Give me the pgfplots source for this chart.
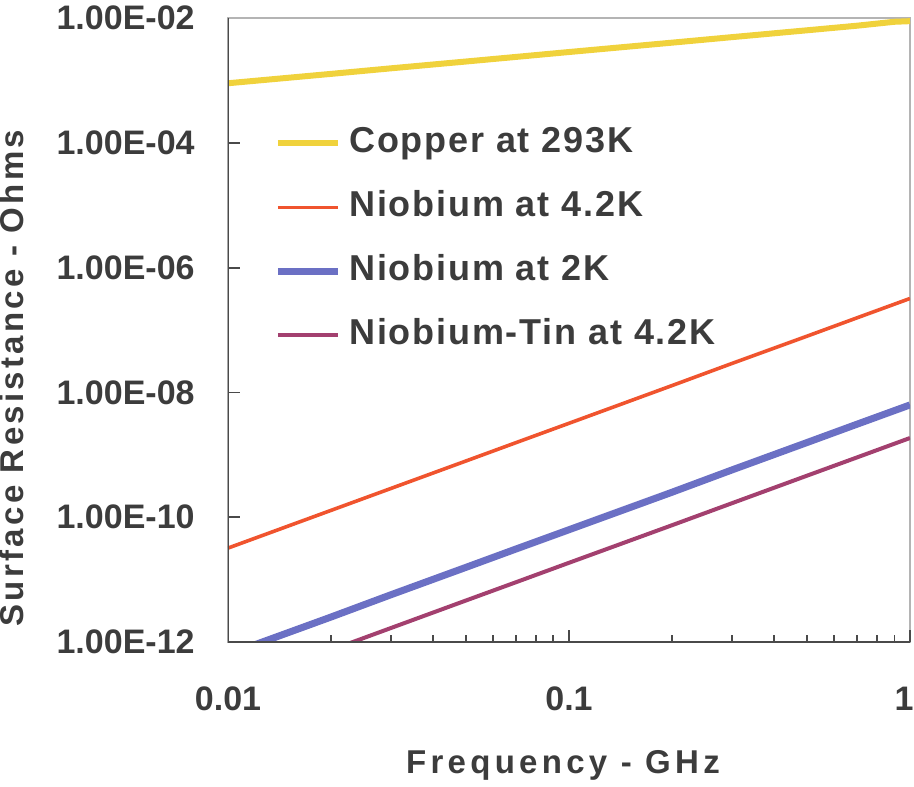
\documentclass[border=0pt]{standalone}
\usepackage{fontspec}
\setmainfont{Liberation Sans}
\newfontfamily\legfont[LetterSpace=5]{Liberation Sans}
\newfontfamily\labfont[LetterSpace=13]{Liberation Sans}
\newfontfamily\ylabfont[LetterSpace=10]{Liberation Sans}
\usepackage{pgfplots}
\pgfplotsset{compat=1.18}
\usetikzlibrary{calc}
\definecolor{txt}{HTML}{3C3C3C}
\definecolor{axdark}{HTML}{4A4A4A}
\definecolor{axlight}{HTML}{B4B4B4}
\definecolor{copper}{HTML}{F0D23C}
\definecolor{nbfour}{HTML}{F0542E}
\definecolor{nbtwo}{HTML}{6B70C4}
\definecolor{nbtin}{HTML}{A3406F}

% frequency (GHz) vs surface resistance (Ohm)
\pgfplotstableread{
f Rs
0.01 9.0e-4
0.02 1.27e-3
0.03 1.56e-3
0.05 2.01e-3
0.07 2.38e-3
0.1 2.85e-3
0.2 4.02e-3
0.3 4.93e-3
0.5 6.36e-3
0.7 7.53e-3
0.9 8.7e-3
1.0 8.9e-3
}\copperdata
\pgfplotstableread{
f Rs
0.01 3.2e-11
0.02 1.28e-10
0.03 2.88e-10
0.05 8.0e-10
0.07 1.57e-9
0.1 3.2e-9
0.2 1.28e-8
0.3 2.9e-8
0.5 8.0e-8
0.7 1.57e-7
1.0 3.2e-7
}\nbfourdata
\pgfplotstableread{
f Rs
0.01 6.3e-13
0.02 2.5e-12
0.03 5.7e-12
0.05 1.58e-11
0.07 3.1e-11
0.1 6.3e-11
0.2 2.5e-10
0.3 5.7e-10
0.5 1.58e-9
0.7 3.1e-9
1.0 6.3e-9
}\nbtwodata
\pgfplotstableread{
f Rs
0.02 7.4e-13
0.03 1.67e-12
0.05 4.65e-12
0.07 9.1e-12
0.1 1.86e-11
0.2 7.4e-11
0.3 1.67e-10
0.5 4.65e-10
0.7 9.1e-10
1.0 1.86e-9
}\nbtindata

\begin{document}
\begin{tikzpicture}
% page = reference frame: axis box 341x312pt at (0,0)
\useasboundingbox (-114pt,-72pt) rectangle (343pt,321pt);
\begin{axis}[
  at={(0,0)}, anchor=south west,
  scale only axis,
  width=341pt, height=312pt,
  xmode=log, ymode=log,
  xmin=0.01, xmax=1, ymin=1e-12, ymax=1e-2,
  xtick={0.01,0.1}, xticklabels={0.01,0.1},
  minor xtick={0.02,0.03,0.04,0.05,0.06,0.07,0.08,0.09,0.2,0.3,0.4,0.5,0.6,0.7,0.8,0.9},
  extra x ticks={1}, extra x tick labels={1},
  extra x tick style={xticklabel style={xshift=-3pt}},
  ytick={1e-12,1e-10,1e-8,1e-6,1e-4,1e-2},
  yticklabels={1.00E-12,1.00E-10,1.00E-08,1.00E-06,1.00E-04,1.00E-02},
  yminorticks=false,
  tick pos=left,
  tick align=inside,
  major tick length=6pt, minor tick length=3.5pt,
  tick style={draw=axdark, line width=0.9pt},
  axis line style={draw=axlight, line width=0.9pt},
  ticklabel style={font=\bfseries\fontsize{17}{20}\selectfont, text=txt},
  yticklabel style={anchor=east, inner sep=0pt, xshift=-16.5pt},
  xticklabel style={anchor=base, inner sep=0pt, yshift=-34pt},
  xlabel={Frequency - GHz},
  ylabel={Surface Resistance - Ohms},
  every axis x label/.style={at={($(rel axis cs:0.5,0)+(-3pt,-65.5pt)$)}, anchor=base, inner sep=0pt,
    font=\labfont\bfseries\fontsize{16.5}{20}\selectfont, text=txt},
  every axis y label/.style={at={($(rel axis cs:0,0.5)+(-102pt,-24pt)$)}, rotate=90, anchor=base, inner sep=0pt,
    font=\ylabfont\bfseries\fontsize{16.5}{20}\selectfont, text=txt},
  legend style={at={(rel axis cs:0,1)}, anchor=north west, xshift=23pt, yshift=-54pt,
    draw=none, fill=none, inner sep=0pt, row sep=15pt, column sep=4pt,
    font=\legfont\bfseries\fontsize{18}{20}\selectfont, text=txt,
    nodes={inner sep=0pt, text height=13pt, text depth=4pt}},
  legend cell align=left,
  legend image code/.code={\draw[#1] (0pt,0pt) -- (30pt,0pt);},
]
\addplot[copper, line width=3pt] table[x=f, y=Rs] {\copperdata};
\addlegendentry{Copper at 293K}
\addplot[nbfour, line width=1.8pt] table[x=f, y=Rs] {\nbfourdata};
\addlegendentry{Niobium at 4.2K}
\addplot[nbtwo, line width=3.5pt] table[x=f, y=Rs] {\nbtwodata};
\addlegendentry{Niobium at 2K}
\addplot[nbtin, line width=2pt] table[x=f, y=Rs] {\nbtindata};
\addlegendentry{Niobium-Tin at 4.2K}
\draw[axdark, line width=1pt] (rel axis cs:0,1) -- (rel axis cs:0,0) -- (rel axis cs:1,0);
\end{axis}
\end{tikzpicture}
\end{document}
